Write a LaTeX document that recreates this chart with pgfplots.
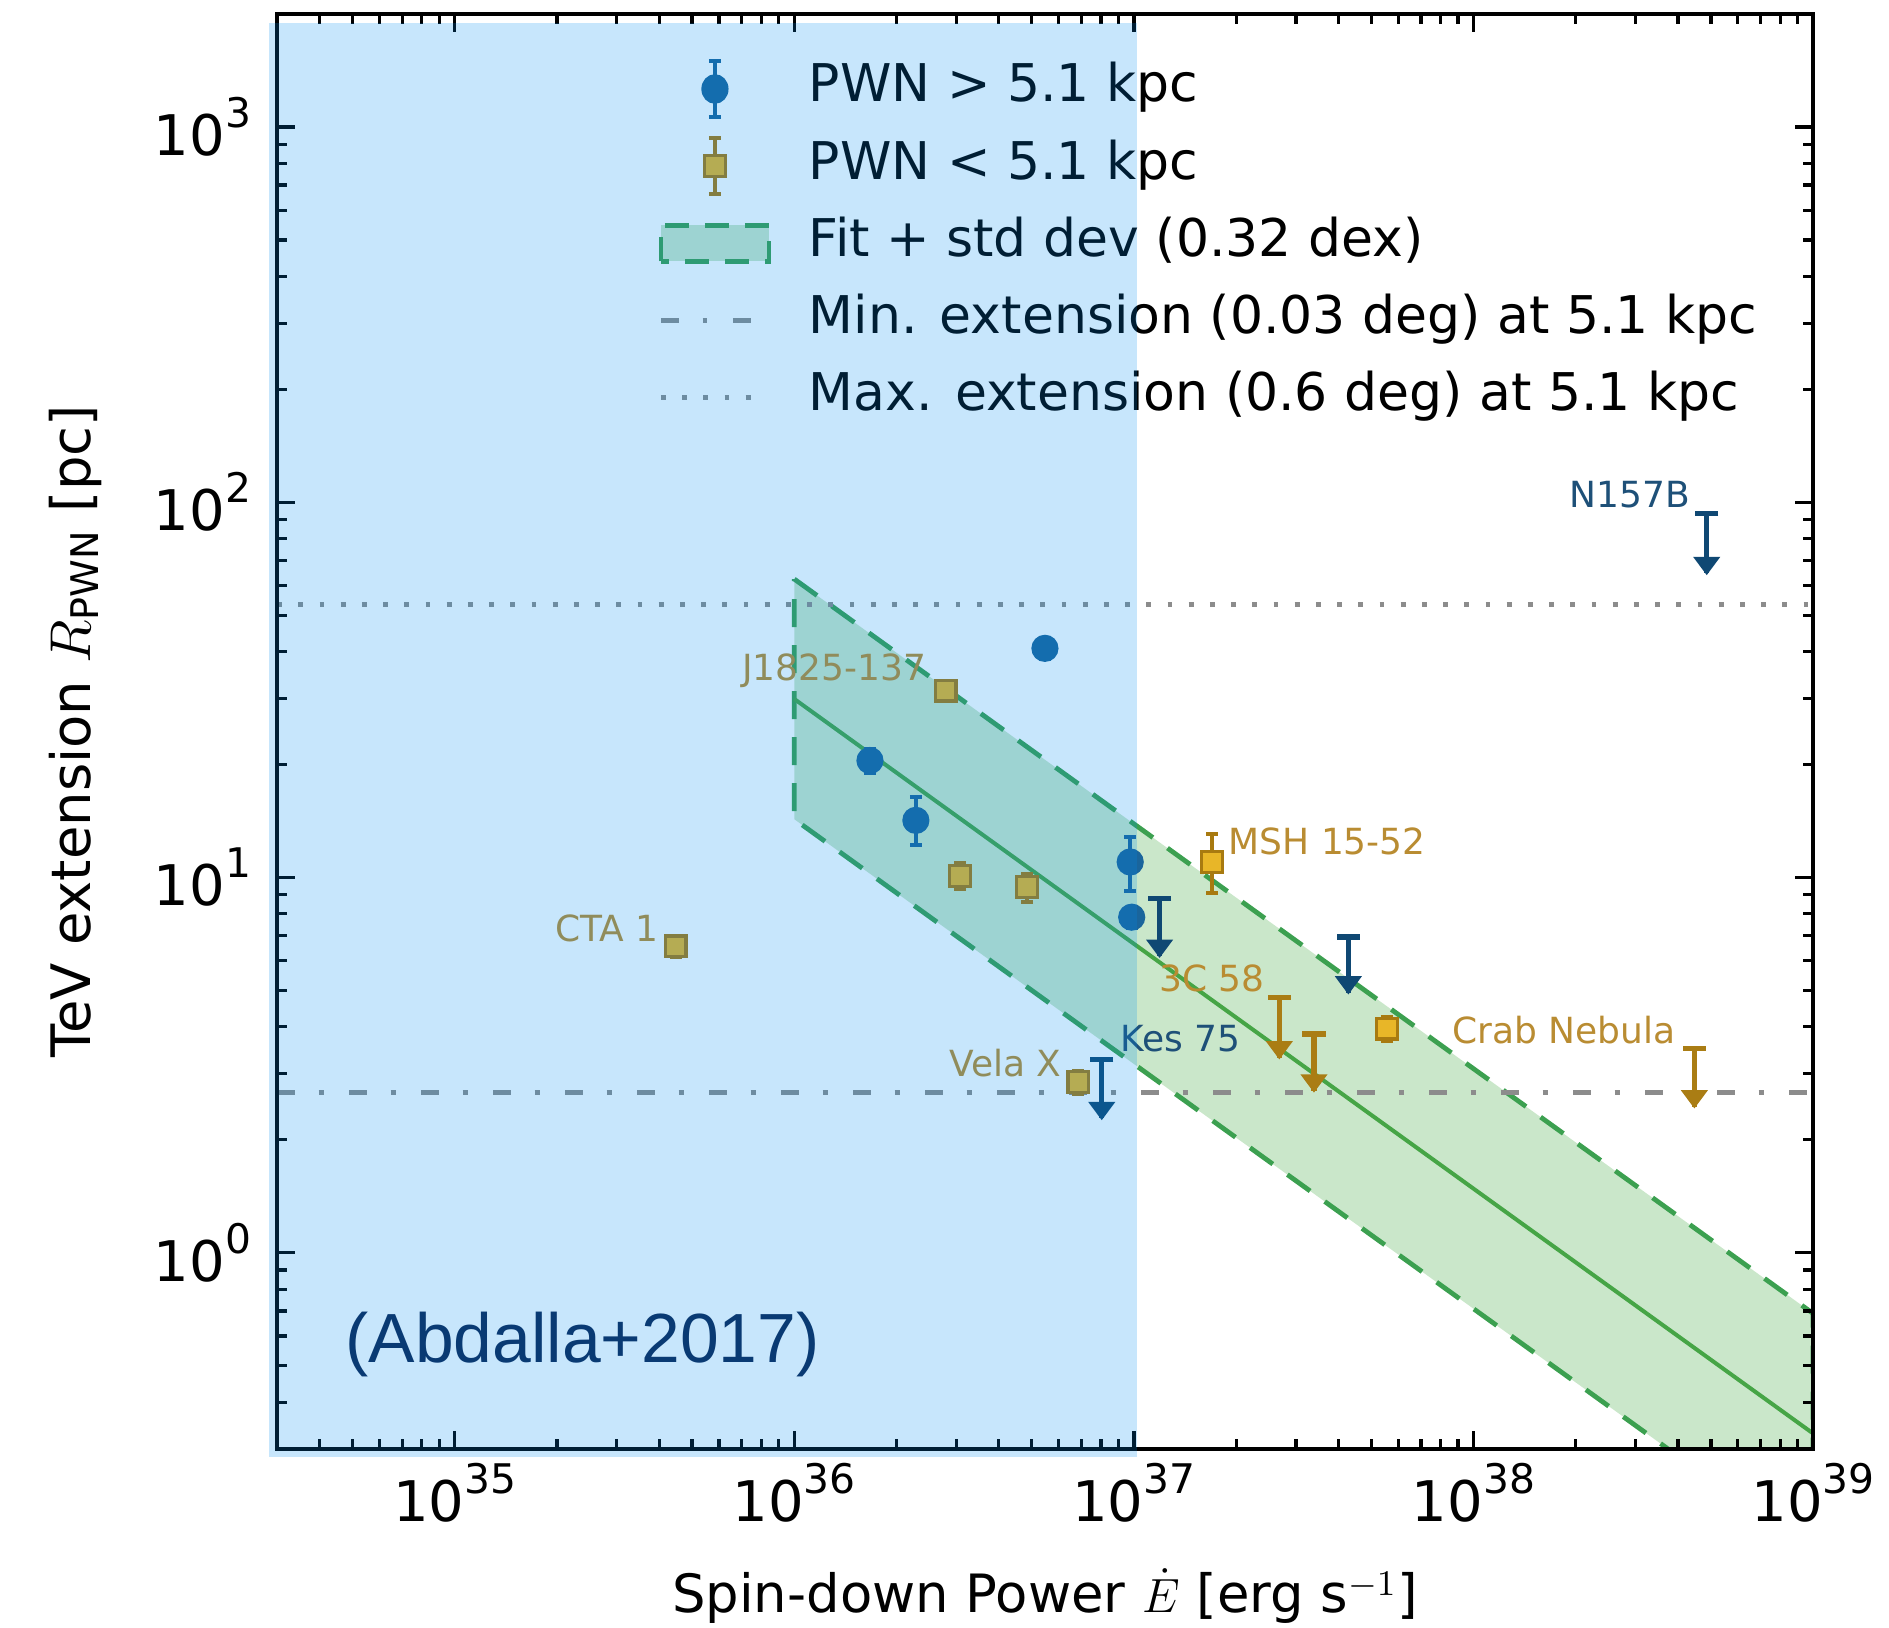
\documentclass[border=0pt]{standalone}
\usepackage{pgfplots}
\pgfplotsset{compat=1.18}
\usepackage{pgfplotstable}
\usepackage{fontspec}
\setmainfont{DejaVu Sans}
\newfontfamily\arialfont{Liberation Sans}
\usetikzlibrary{calc}

\definecolor{pwnblue}{RGB}{26,101,156}
\definecolor{ulblue}{RGB}{15,72,115}
\definecolor{labblue}{RGB}{30,80,120}
\definecolor{pwngold}{RGB}{232,182,40}
\definecolor{pwngoldedge}{RGB}{168,122,16}
\definecolor{ulgold}{RGB}{170,125,20}
\definecolor{labgold}{RGB}{185,140,50}
\definecolor{fitgreen}{RGB}{44,160,44}
\definecolor{fitedge}{RGB}{60,160,80}
\definecolor{fitline}{RGB}{70,165,70}
\definecolor{refgray}{RGB}{140,140,140}
\definecolor{overlayblue}{RGB}{0,140,240}
\definecolor{abdnavy}{RGB}{12,35,80}

\pgfdeclareplotmark{dtri}{%
  \pgfpathmoveto{\pgfqpoint{0pt}{0pt}}%
  \pgfpathlineto{\pgfqpoint{-2.9pt}{3.9pt}}%
  \pgfpathlineto{\pgfqpoint{2.9pt}{3.9pt}}%
  \pgfpathclose
  \pgfusepathqfillstroke}

% PWN > 5.1 kpc: x, y, error plus, error minus
\pgfplotstableread{
x y ep em
1.67e36 20.5 1.5 1.5
2.28e36 14.2 2.2 2.0
5.47e36 40.8 2.5 2.5
9.75e36 11.0 1.8 1.8
9.85e36 7.84 0.5 0.5
}\farpts
% PWN < 5.1 kpc
\pgfplotstableread{
x y ep em
4.47e35 6.55 0.4 0.4
2.79e36 31.5 1.6 1.6
3.08e36 10.1 0.8 0.8
4.85e36 9.42 0.8 0.8
6.86e36 2.85 0.2 0.2
1.70e37 11.0 2.1 1.9
5.56e37 3.96 0.3 0.3
}\nearpts
% upper limits: x, top (cap), tip, length
\pgfplotstableread{
x top tip d
8.04e36 3.28 2.28 1.00
1.19e37 8.78 6.17 2.61
4.28e37 6.94 4.93 2.01
4.86e38 93.5 64.6 28.9
}\farul
\pgfplotstableread{
x top tip d
2.68e37 4.80 3.31 1.49
3.39e37 3.83 2.70 1.13
4.47e38 3.50 2.45 1.05
}\nearul

\begin{document}
\begin{tikzpicture}
\begin{axis}[
  scale only axis,
  width=384pt, height=358.75pt,
  xmode=log, ymode=log,
  xmin=3e34, xmax=1e39,
  ymin=0.3, ymax=2000,
  axis on top,
  axis line style={line width=1pt, black},
  major tick length=4.5pt, minor tick length=2.5pt,
  every tick/.style={black, line width=0.8pt},
  /pgf/number format/assume math mode=true,
  log number format basis/.code 2 args={#1\raisebox{7pt}{\fontsize{10.2}{10.2}\selectfont\pgfmathprintnumber{#2}}},
  ticklabel style={font=\fontsize{14}{14}\selectfont},
  yticklabel style={xshift=-3pt},
  every axis x label/.style={at={(axis description cs:0.5,0)}, anchor=center, yshift=-36.75pt, font=\fontsize{13.2}{13.2}\selectfont},
  every axis y label/.style={at={(axis description cs:0,0.5)}, xshift=-50.5pt, rotate=90, anchor=center, font=\fontsize{13.6}{13.6}\selectfont},
  xlabel={Spin-down Power $\dot{E}$ [erg s$^{-1}$]},
  ylabel={TeV extension $R_{\mathrm{PWN}}$ [pc]},
  legend style={at={(axis description cs:0,1)}, anchor=north west, xshift=95.75pt, yshift=-12.3pt,
    draw=none, fill=none, inner sep=0pt, row sep=6.8pt, column sep=10pt,
    nodes={inner sep=0pt, text height=9.5pt, text depth=3pt, font=\fontsize{13}{13}\selectfont}},
  legend cell align=left,
]

% fit band and fit line
\addplot[forget plot, fill=fitgreen, fill opacity=0.25, draw=fitedge, line width=1.2pt,
  dash pattern=on 7pt off 4.5pt]
  coordinates {(1e36,62.4) (1e39,0.689) (1e39,0.158) (1e36,14.3)} -- cycle;
\addplot[forget plot, fitline, line width=1pt] coordinates {(1e36,29.9) (1e39,0.33)};

% reference lines
\addplot[forget plot, refgray, line width=1.3pt, dash pattern=on 4.4pt off 6pt on 1.2pt off 6.4pt]
  coordinates {(3e34,2.67) (1e39,2.67)};
\addplot[forget plot, refgray, line width=1.2pt, dash pattern=on 1.2pt off 4.1pt]
  coordinates {(3e34,53.4) (1e39,53.4)};

% PWN > 5.1 kpc
\addplot[forget plot, only marks, mark=*, mark size=3.2pt,
  mark options={fill=pwnblue, draw=pwnblue},
  error bars/.cd, y dir=both, y explicit,
  error bar style={line width=1pt, pwnblue},
  error mark options={rotate=90, pwnblue, mark size=1.5pt, line width=1pt}]
  table[x=x, y=y, y error plus=ep, y error minus=em] {\farpts};

% PWN < 5.1 kpc
\addplot[forget plot, only marks, mark=square*, mark size=2.6pt,
  mark options={fill=pwngold, draw=pwngoldedge, line width=0.8pt},
  error bars/.cd, y dir=both, y explicit,
  error bar style={line width=1pt, pwngoldedge},
  error mark options={rotate=90, pwngoldedge, mark size=1.5pt, line width=1pt}]
  table[x=x, y=y, y error plus=ep, y error minus=em] {\nearpts};

% upper limits (far)
\addplot[forget plot, only marks, mark=-, mark size=2.9pt,
  mark options={ulblue, line width=1.3pt},
  error bars/.cd, y dir=minus, y explicit,
  error bar style={line width=1.3pt, ulblue}, error mark=none]
  table[x=x, y=top, y error minus=d] {\farul};
\addplot[forget plot, only marks, mark=dtri, mark options={fill=ulblue, draw=ulblue, line width=0.5pt}]
  table[x=x, y=tip] {\farul};

% upper limits (near)
\addplot[forget plot, only marks, mark=-, mark size=2.9pt,
  mark options={ulgold, line width=1.3pt},
  error bars/.cd, y dir=minus, y explicit,
  error bar style={line width=1.3pt, ulgold}, error mark=none]
  table[x=x, y=top, y error minus=d] {\nearul};
\addplot[forget plot, only marks, mark=dtri, mark options={fill=ulgold, draw=ulgold, line width=0.5pt}]
  table[x=x, y=tip] {\nearul};

% source labels
\begin{scope}[every node/.style={inner sep=0pt, font=\fontsize{9}{9}\selectfont}]
\node[anchor=east, labblue] at (axis cs:4.37e38,105) {N157B};
\node[anchor=east, labgold] at (axis cs:2.46e36,35.6) {J1825-137};
\node[anchor=west, labgold] at (axis cs:1.89e37,12.5) {MSH 15-52};
\node[anchor=east, labgold] at (axis cs:4.0e35,7.31) {CTA 1};
\node[anchor=west, labgold] at (axis cs:1.18e37,5.38) {3C 58};
\node[anchor=west, labblue] at (axis cs:9.06e36,3.72) {Kes 75};
\node[anchor=east, labgold] at (axis cs:6.15e36,3.20) {Vela X};
\node[anchor=west, labgold] at (axis cs:8.6e37,3.91) {Crab Nebula};
\end{scope}

\node[anchor=base west, inner sep=0pt, abdnavy, font=\arialfont\fontsize{17.4}{17.4}\selectfont]
  at (rel axis cs:0.044,0.06) {(Abdalla+2017)};

\coordinate (ovSW) at (rel axis cs:0,0);
\coordinate (ovNE) at (axis cs:1.02e37,2000);

% legend
\addlegendimage{legend image code/.code={
  \path[draw=none, fill=none] (0pt,-2pt) rectangle (27pt,2pt);
  \draw[overlay, pwnblue, line width=1pt] (13.5pt,-7pt) -- (13.5pt,7pt) (12pt,7pt) -- (15pt,7pt) (12pt,-7pt) -- (15pt,-7pt);
  \fill[overlay, pwnblue] (13.5pt,0pt) ellipse (3.2pt and 3.5pt);}}
\addlegendentry{PWN > 5.1 kpc}
\addlegendimage{legend image code/.code={
  \path[draw=none, fill=none] (0pt,-2pt) rectangle (27pt,2pt);
  \draw[overlay, pwngoldedge, line width=1pt] (13.5pt,-7pt) -- (13.5pt,7pt) (12pt,7pt) -- (15pt,7pt) (12pt,-7pt) -- (15pt,-7pt);
  \filldraw[overlay, fill=pwngold, draw=pwngoldedge, line width=0.8pt] (10.9pt,-2.6pt) rectangle (16.1pt,2.6pt);}}
\addlegendentry{PWN < 5.1 kpc}
\addlegendimage{legend image code/.code={
  \path[draw=none, fill=none] (0pt,-2pt) rectangle (27pt,2pt);
  \draw[overlay, fitedge, line width=1.2pt, dash pattern=on 6pt off 4pt, fill=fitgreen, fill opacity=0.25] (0pt,-4.5pt) rectangle (27pt,4.5pt);}}
\addlegendentry{Fit + std dev (0.32 dex)}
\addlegendimage{legend image code/.code={
  \path[draw=none, fill=none] (0pt,-2pt) rectangle (27pt,2pt);
  \draw[overlay, refgray, line width=1.3pt, dash pattern=on 4.4pt off 6pt on 1.2pt off 6.4pt] (0pt,0pt) -- (24pt,0pt);}}
\addlegendentry{Min. extension (0.03 deg) at 5.1 kpc}
\addlegendimage{legend image code/.code={
  \path[draw=none, fill=none] (0pt,-2pt) rectangle (27pt,2pt);
  \draw[overlay, refgray, line width=1.2pt, dash pattern=on 1.2pt off 4.1pt] (0pt,0pt) -- (24pt,0pt);}}
\addlegendentry{Max. extension (0.6 deg) at 5.1 kpc}
\end{axis}

% translucent blue overlay on top of everything left of 1e37
\fill[overlayblue, opacity=0.22] ($(ovSW)+(-2pt,-2pt)$) rectangle ($(ovNE)+(0pt,-2.2pt)$);

\pgfresetboundingbox
\path ($(current axis.south west)+(-69.25pt,-44.5pt)$) rectangle ($(current axis.north east)+(19pt,3.5pt)$);
\end{tikzpicture}
\end{document}
